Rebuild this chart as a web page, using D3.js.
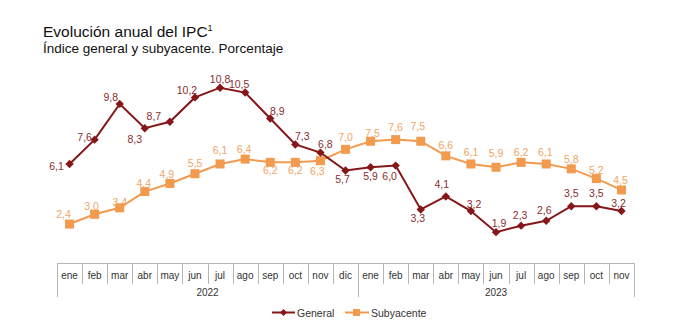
<!DOCTYPE html>
<html>
<head>
<meta charset="utf-8">
<script src="https://cdn.jsdelivr.net/npm/d3@7"></script>
<style>
  body { margin: 0; background: #fff; }
  svg { font-family: "Liberation Sans", Arial, sans-serif; }
</style>
</head>
<body>
<div id="chart"></div>
<script>
// data
var months = ["ene", "feb", "mar", "abr", "may", "jun", "jul", "ago", "sep", "oct", "nov", "dic",
              "ene", "feb", "mar", "abr", "may", "jun", "jul", "ago", "sep", "oct", "nov"];
var years = ["2022", "2023"];
var yearCount = [12, 11];
var general = [6.1, 7.6, 9.8, 8.3, 8.7, 10.2, 10.8, 10.5, 8.9, 7.3, 6.8, 5.7,
               5.9, 6.0, 3.3, 4.1, 3.2, 1.9, 2.3, 2.6, 3.5, 3.5, 3.2];
var subyacente = [2.4, 3.0, 3.4, 4.4, 4.9, 5.5, 6.1, 6.4, 6.2, 6.2, 6.3, 7.0,
                  7.5, 7.6, 7.5, 6.6, 6.1, 5.9, 6.2, 6.1, 5.8, 5.2, 4.5];

// label offsets (dx, dy from point to text centre)
var genOff = [[-13, 2], [-10, -3], [-9, -7], [-10, 11], [-16, -6], [-8, -7], [0, -9], [-6, -9],
              [7, -8], [7, -8], [5, -9], [-3, 9], [0, 9], [-6, 10], [-3, 9], [-4, -12],
              [3, -7], [3, -9], [-1, -11], [-2, -11], [0, -13], [0, -13], [-3, -8]];
var subOff = [[-6, -10], [-3, -8], [0, -6], [-1, -9], [-3, -9], [0, -11], [0, -14], [-1, -10],
              [0, 8], [0, 8], [-3, 10], [0, -12], [2, -8], [0, -13], [-3, -15], [0, -11],
              [0, -12], [0, -14], [0, -10], [-1, -12], [0, -10], [0, -9], [-1, -10]];

var width = 679, height = 328;
var cGen = "#861719", cSub = "#f29a4e";
var cGenTxt = "#8a2e30", cSubTxt = "#f0a466";

var svg = d3.select("#chart").append("svg").attr("width", width).attr("height", height);

svg.append("text").attr("x", 43).attr("y", 37).attr("font-size", 15.5).attr("fill", "#111")
  .text("Evolución anual del IPC")
  .append("tspan").attr("dy", -6).attr("font-size", 9).text("1");
svg.append("text").attr("x", 43).attr("y", 53).attr("font-size", 13.5).attr("fill", "#111")
  .text("Índice general y subyacente. Porcentaje");

var x = d3.scaleBand().domain(d3.range(months.length)).range([57, 634]);
var y = d3.scaleLinear().domain([0, 12]).range([263, 68.2]);
var cx = function(i) { return x(i) + x.bandwidth() / 2; };

// axis box
var ax = svg.append("g").attr("stroke", "#b5b5b5").attr("stroke-width", 1);
ax.append("line").attr("x1", 57).attr("x2", 634).attr("y1", 263.5).attr("y2", 263.5);
d3.range(months.length + 1).forEach(function(i) {
  var xx = Math.round(i < months.length ? x(i) : x(i - 1) + x.bandwidth()) + 0.5;
  var long = (i == 0 || i == 12 || i == months.length);
  ax.append("line").attr("x1", xx).attr("x2", xx).attr("y1", 263).attr("y2", long ? 297 : 284);
});

svg.selectAll(".mlab").data(months).enter().append("text")
  .attr("x", function(d, i) { return cx(i); })
  .attr("y", 278.5).attr("text-anchor", "middle").attr("font-size", 10).attr("fill", "#333")
  .text(function(d) { return d; });

var start = 0;
years.forEach(function(yr, k) {
  var mid = (x(start) + x(start + yearCount[k] - 1) + x.bandwidth()) / 2;
  svg.append("text").attr("x", mid).attr("y", 295.5).attr("text-anchor", "middle")
    .attr("font-size", 10).attr("fill", "#333").text(yr);
  start += yearCount[k];
});

var line = d3.line().x(function(d, i) { return cx(i); }).y(function(d) { return y(d); });

svg.append("path").datum(subyacente).attr("d", line).attr("fill", "none")
  .attr("stroke", cSub).attr("stroke-width", 2);
svg.append("path").datum(general).attr("d", line).attr("fill", "none")
  .attr("stroke", cGen).attr("stroke-width", 2);

svg.selectAll(".sq").data(subyacente).enter().append("rect")
  .attr("x", function(d, i) { return cx(i) - 4.5; })
  .attr("y", function(d) { return y(d) - 4.5; })
  .attr("width", 9).attr("height", 9).attr("fill", cSub);

// square rotated 45deg
var diamond = "M0,-4.2L4.2,0L0,4.2L-4.2,0Z";
svg.selectAll(".dm").data(general).enter().append("path")
  .attr("d", diamond)
  .attr("transform", function(d, i) { return "translate(" + cx(i) + "," + y(d) + ")"; })
  .attr("fill", cGen);

function fmt(v) { return v.toFixed(1).replace(".", ","); }

svg.selectAll(".glab").data(general).enter().append("text")
  .attr("x", function(d, i) { return cx(i) + genOff[i][0]; })
  .attr("y", function(d, i) { return y(d) + genOff[i][1] + 4; })
  .attr("text-anchor", "middle").attr("font-size", 10.5).attr("fill", cGenTxt)
  .text(fmt);

svg.selectAll(".slab").data(subyacente).enter().append("text")
  .attr("x", function(d, i) { return cx(i) + subOff[i][0]; })
  .attr("y", function(d, i) { return y(d) + subOff[i][1] + 4; })
  .attr("text-anchor", "middle").attr("font-size", 10.5).attr("fill", cSubTxt)
  .text(fmt);

// legend
var leg = svg.append("g").attr("font-size", 10.5).attr("fill", "#333");
leg.append("line").attr("x1", 272).attr("x2", 295).attr("y1", 312.5).attr("y2", 312.5)
  .attr("stroke", cGen).attr("stroke-width", 2);
leg.append("path").attr("d", "M0,-3.5L3.5,0L0,3.5L-3.5,0Z").attr("transform", "translate(283.5,312.5)").attr("fill", cGen);
leg.append("text").attr("x", 297).attr("y", 316.5).text("General");
leg.append("line").attr("x1", 345).attr("x2", 369).attr("y1", 312.5).attr("y2", 312.5)
  .attr("stroke", cSub).attr("stroke-width", 2);
leg.append("rect").attr("x", 353).attr("y", 309).attr("width", 7).attr("height", 7).attr("fill", cSub);
leg.append("text").attr("x", 371).attr("y", 316.5).text("Subyacente");
</script>
</body>
</html>
